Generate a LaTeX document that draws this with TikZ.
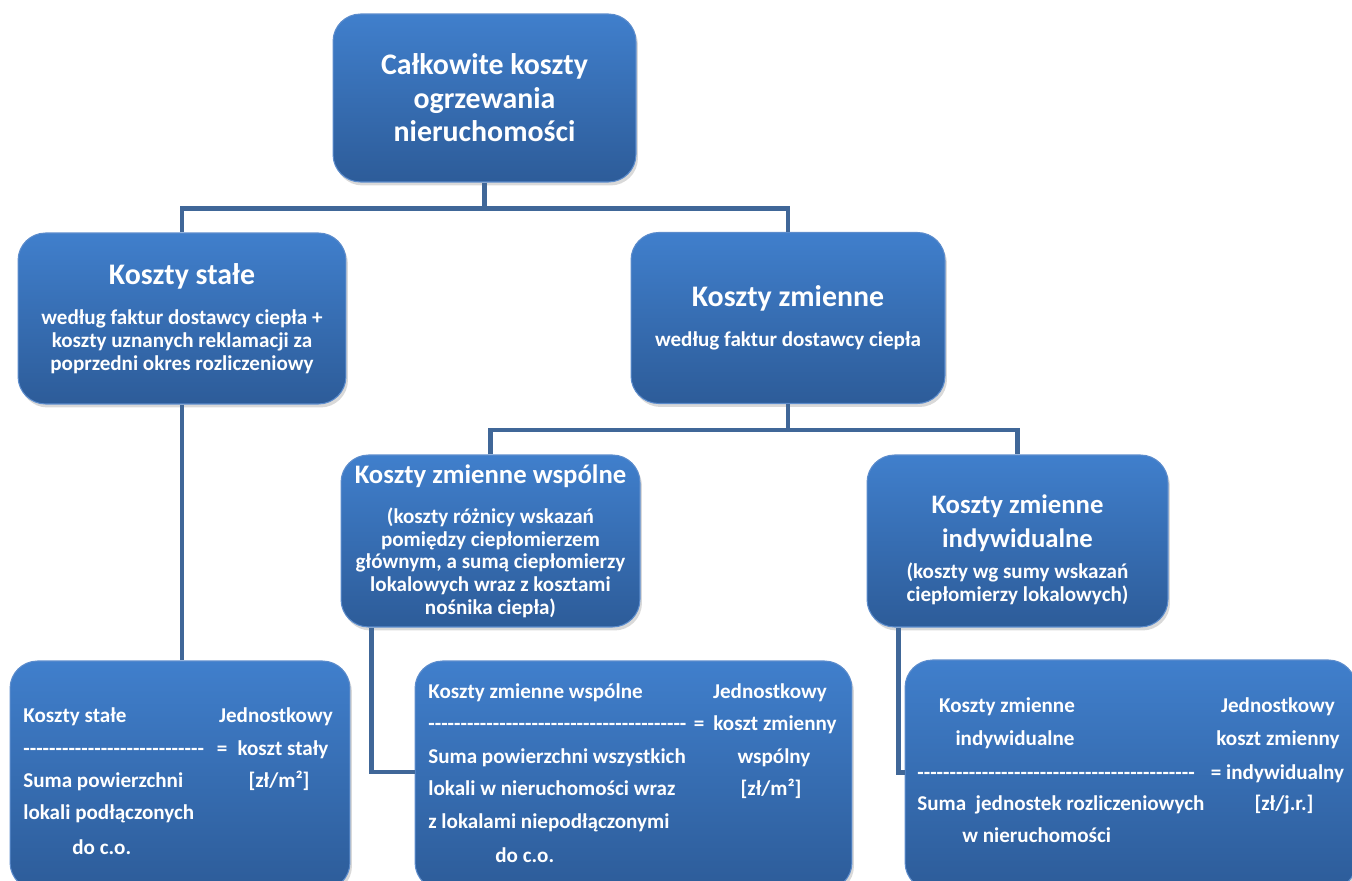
\documentclass[tikz,border=0pt]{standalone}
\usepackage{fontspec}
\setmainfont{Carlito}
\usetikzlibrary{shadows}

\begin{document}
\begin{tikzpicture}[x=0.02cm, y=-0.02cm,
    box/.style={rounded corners=0.55cm, draw=box-rim, line width=0.6pt, top color=box-top, bottom color=box-bottom, text=white, align=center, inner sep=0pt, font=\fontsize{12}{12.9}\selectfont\bfseries, drop shadow={opacity=0.3, shadow xshift=0.04cm, shadow yshift=-0.07cm}},
    link/.style={draw=link-blue, line width=2.3pt},
    txt/.style={text=white, inner sep=0pt, text height=8.5pt, text depth=2.5pt, font=\fontsize{12}{14}\selectfont\bfseries}]
    \def\hA{\fontsize{17}{19}\selectfont}
    \def\hB{\fontsize{15.2}{18}\selectfont}
    \def\dashes#1{\foreach \i in {1,...,#1}{\mbox{-}}}
    \definecolor{box-top}{RGB}{64,127,204}
    \definecolor{box-bottom}{RGB}{45,92,153}
    \definecolor{box-rim}{RGB}{92,140,204}
    \definecolor{link-blue}{RGB}{64,103,152}
    \clip (0,0) rectangle (1352,881);
    \node[box, font=\hA\bfseries, minimum width=6.06cm, minimum height=3.36cm] (calk) at (484.5,98) {Całkowite koszty\\ogrzewania\\nieruchomości};
    \node[box, minimum width=6.56cm, minimum height=3.42cm] (stale) at (182,318.5) {{\hA Koszty stałe}\\[10pt]według faktur dostawcy ciepła +\\koszty uznanych reklamacji za\\poprzedni okres rozliczeniowy};
    \node[box, minimum width=6.28cm, minimum height=3.42cm] (zmienne) at (788,318) {{\hA Koszty zmienne}\\[10pt]według faktur dostawcy ciepła};
    \node[box, minimum width=5.98cm, minimum height=3.44cm] (wspolne) at (490.5,541) {{\hB Koszty zmienne wspólne}\\[10pt](koszty różnicy wskazań\\pomiędzy ciepłomierzem\\głównym, a sumą ciepłomierzy\\lokalowych wraz z kosztami\\nośnika ciepła)};
    \node[box, minimum width=6.02cm, minimum height=3.44cm] (indyw) at (1017.5,541) {{\hB\rule{0pt}{21pt}Koszty zmienne}\\[5pt]{\hB indywidualne}\\[5pt](koszty wg sumy wskazań\\ciepłomierzy lokalowych)};
    \node[box, minimum width=6.8cm, minimum height=4.58cm] (dol1) at (180,775.5) {};
    \node[box, minimum width=8.74cm, minimum height=4.58cm] (dol2) at (633.5,775.5) {};
    \node[box, minimum width=9.02cm, minimum height=4.6cm] (dol3) at (1130.5,775) {};
    \coordinate (j1) at ([yshift=-0.52cm]calk.south);
    \coordinate (j2) at ([yshift=-0.52cm]zmienne.south);
    \draw[link] (calk.south) -- (j1);
    \draw[link] (stale.north) |- (j1) -| (zmienne.north);
    \draw[link] (zmienne.south) -- (j2);
    \draw[link] (wspolne.north) |- (j2) -| (indyw.north);
    \draw[link] (stale.south) -- (stale.south |- dol1.north);
    \draw[link] ([xshift=0.62cm]wspolne.south west) |- ([yshift=0.07cm]dol2.west);
    \draw[link] ([xshift=0.64cm]indyw.south west) |- ([yshift=0.05cm]dol3.west);
    \begin{scope}
      \node[txt, anchor=west] (d1a) at (23,717) {Koszty stałe};
      \node[txt] (d1b) at (276,717) {Jednostkowy};
      \node[txt, anchor=west] (d1c) at (23,750) {\dashes{28}};
      \node[txt] (d1d) at (222,750) {=};
      \node[txt] (d1e) at (283,750) {koszt stały};
      \node[txt, anchor=west] (d1f) at (23,782) {Suma powierzchni};
      \node[txt] (d1g) at (279,782) {[zł/m²]};
      \node[txt, anchor=west] (d1h) at (23,814) {lokali podłączonych};
      \node[txt, anchor=west] (d1i) at (72,849) {do c.o.};
    \end{scope}
    \begin{scope}
      \node[txt, anchor=west] (d2a) at (428,693) {Koszty zmienne wspólne};
      \node[txt] (d2b) at (770,693) {Jednostkowy};
      \node[txt, anchor=west] (d2c) at (428,725) {\dashes{40}};
      \node[txt] (d2d) at (699,725) {=};
      \node[txt] (d2e) at (775,725) {koszt zmienny};
      \node[txt, anchor=west] (d2f) at (428,758) {Suma powierzchni wszystkich};
      \node[txt] (d2g) at (774,758) {wspólny};
      \node[txt, anchor=west] (d2h) at (428,790) {lokali w nieruchomości wraz};
      \node[txt] (d2i) at (771,790) {[zł/m²]};
      \node[txt, anchor=west] (d2j) at (428,823) {z lokalami niepodłączonymi};
      \node[txt, anchor=west] (d2k) at (495,857) {do c.o.};
    \end{scope}
    \begin{scope}
      \node[txt] (d3a) at (1007,707) {Koszty zmienne};
      \node[txt] (d3b) at (1278,707) {Jednostkowy};
      \node[txt] (d3c) at (1015,740) {indywidualne};
      \node[txt] (d3d) at (1278,740) {koszt zmienny};
      \node[txt, anchor=west] (d3e) at (917,774) {\dashes{43}};
      \node[txt] (d3f) at (1277.5,774) {= indywidualny};
      \node[txt, anchor=west] (d3g) at (917,805) {Suma\ \ jednostek rozliczeniowych};
      \node[txt] (d3h) at (1284,805) {[zł/j.r.]};
      \node[txt, anchor=west] (d3i) at (962,837) {w nieruchomości};
    \end{scope}
\end{tikzpicture}
\end{document}
